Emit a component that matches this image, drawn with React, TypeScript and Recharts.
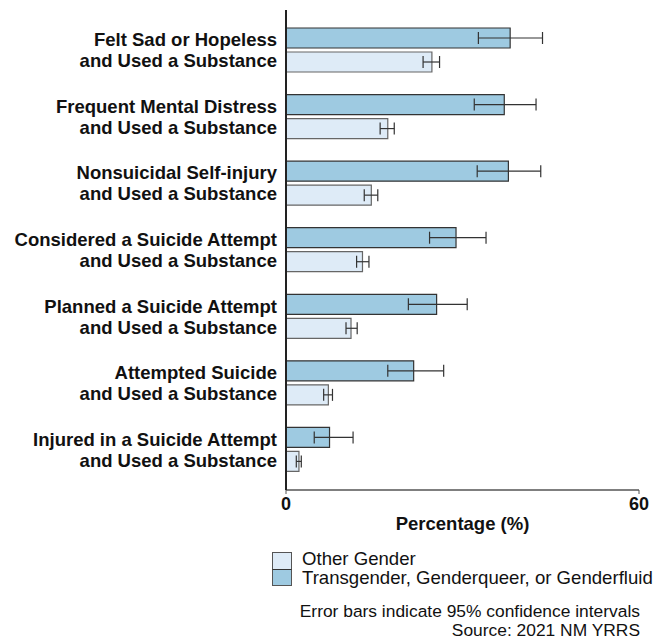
import React from 'react';
import { BarChart, Bar, XAxis, YAxis, ErrorBar } from 'recharts';

const categories = [
  ['Felt Sad or Hopeless', 'and Used a Substance'],
  ['Frequent Mental Distress', 'and Used a Substance'],
  ['Nonsuicidal Self-injury', 'and Used a Substance'],
  ['Considered a Suicide Attempt', 'and Used a Substance'],
  ['Planned a Suicide Attempt', 'and Used a Substance'],
  ['Attempted Suicide', 'and Used a Substance'],
  ['Injured in a Suicide Attempt', 'and Used a Substance'],
];

// Transgender, Genderqueer, or Genderfluid
const transValues = [38.1, 37.1, 37.8, 28.9, 25.6, 21.7, 7.4];
const transLow = [32.7, 32.0, 32.5, 24.4, 20.8, 17.3, 4.8];
const transHigh = [43.6, 42.5, 43.3, 34.0, 30.8, 26.8, 11.4];

// Other Gender
const otherValues = [24.8, 17.3, 14.5, 13.0, 11.05, 7.2, 2.2];
const otherLow = [23.3, 16.0, 13.3, 12.0, 10.2, 6.4, 1.75];
const otherHigh = [26.1, 18.4, 15.6, 14.1, 12.1, 7.9, 2.6];

const xTicks = [0, 60];

const FONT = '"Liberation Sans", Arial, sans-serif';

const chartData = categories.map((c, i) => ({
  name: c.join('|'),
  trans: transValues[i],
  transErr: [transValues[i] - transLow[i], transHigh[i] - transValues[i]],
  other: otherValues[i],
  otherErr: [otherValues[i] - otherLow[i], otherHigh[i] - otherValues[i]],
}));

const CategoryTick = (props: any) => {
  const { x, y, payload } = props;
  const lines = String(payload.value).split('|');
  return (
    <text x={x} y={y} textAnchor="end" fontFamily={FONT} fontWeight="bold" fontSize={18.5} fill="#111">
      <tspan x={x} dy={-4}>{lines[0]}</tspan>
      <tspan x={x} dy={21}>{lines[1]}</tspan>
    </text>
  );
};

export default function App() {
  return (
    <div style={{ position: 'absolute', left: 0, top: 0, width: 667, height: 641, background: '#fff', fontFamily: FONT }}>
      <BarChart
        width={667}
        height={545}
        data={chartData}
        layout="vertical"
        margin={{ top: 10, right: 28, left: 0, bottom: 0 }}
        barSize={20}
        barGap={4}
      >
        <XAxis
          type="number"
          domain={[0, 60]}
          ticks={xTicks}
          height={55}
          axisLine={{ stroke: '#555', strokeWidth: 1.5 }}
          tickLine={{ stroke: '#555' }}
          tickSize={4}
          tickMargin={3}
          tick={{ fontFamily: FONT, fontWeight: 'bold', fontSize: 18, fill: '#111' }}
          label={{ value: 'Percentage (%)', position: 'insideBottom', offset: 15, fontFamily: FONT, fontWeight: 'bold', fontSize: 18.5, fill: '#111' }}
        />
        <YAxis
          type="category"
          dataKey="name"
          width={286}
          padding={{ top: 7, bottom: 7 }}
          axisLine={{ stroke: '#222', strokeWidth: 2 }}
          tickLine={false}
          tickSize={0}
          tickMargin={9}
          tick={<CategoryTick />}
          interval={0}
        />
        <Bar dataKey="trans" fill="#9ecae1" stroke="#333" strokeWidth={1.2} isAnimationActive={false}>
          <ErrorBar dataKey="transErr" direction="x" width={6} stroke="#333" strokeWidth={1.2} />
        </Bar>
        <Bar dataKey="other" fill="#deebf7" stroke="#666" strokeWidth={1.2} isAnimationActive={false}>
          <ErrorBar dataKey="otherErr" direction="x" width={6} stroke="#333" strokeWidth={1.2} />
        </Bar>
      </BarChart>

      <div style={{ position: 'absolute', left: 272, top: 552 }}>
        <div style={{ width: 18, height: 16, background: '#deebf7', border: '1px solid #555', borderBottom: '1.5px solid #333' }} />
        <div style={{ width: 18, height: 15, background: '#9ecae1', border: '1px solid #555', borderTop: 'none' }} />
      </div>
      <div style={{ position: 'absolute', left: 302, top: 549, fontSize: 18.6, lineHeight: '19px', color: '#111', whiteSpace: 'nowrap' }}>
        <div>Other Gender</div>
        <div>Transgender, Genderqueer, or Genderfluid</div>
      </div>

      <div style={{ position: 'absolute', right: 27, top: 602, fontSize: 17.4, lineHeight: '19px', color: '#111', textAlign: 'right', whiteSpace: 'nowrap' }}>
        <div>Error bars indicate 95% confidence intervals</div>
        <div>Source: 2021 NM YRRS</div>
      </div>
    </div>
  );
}
